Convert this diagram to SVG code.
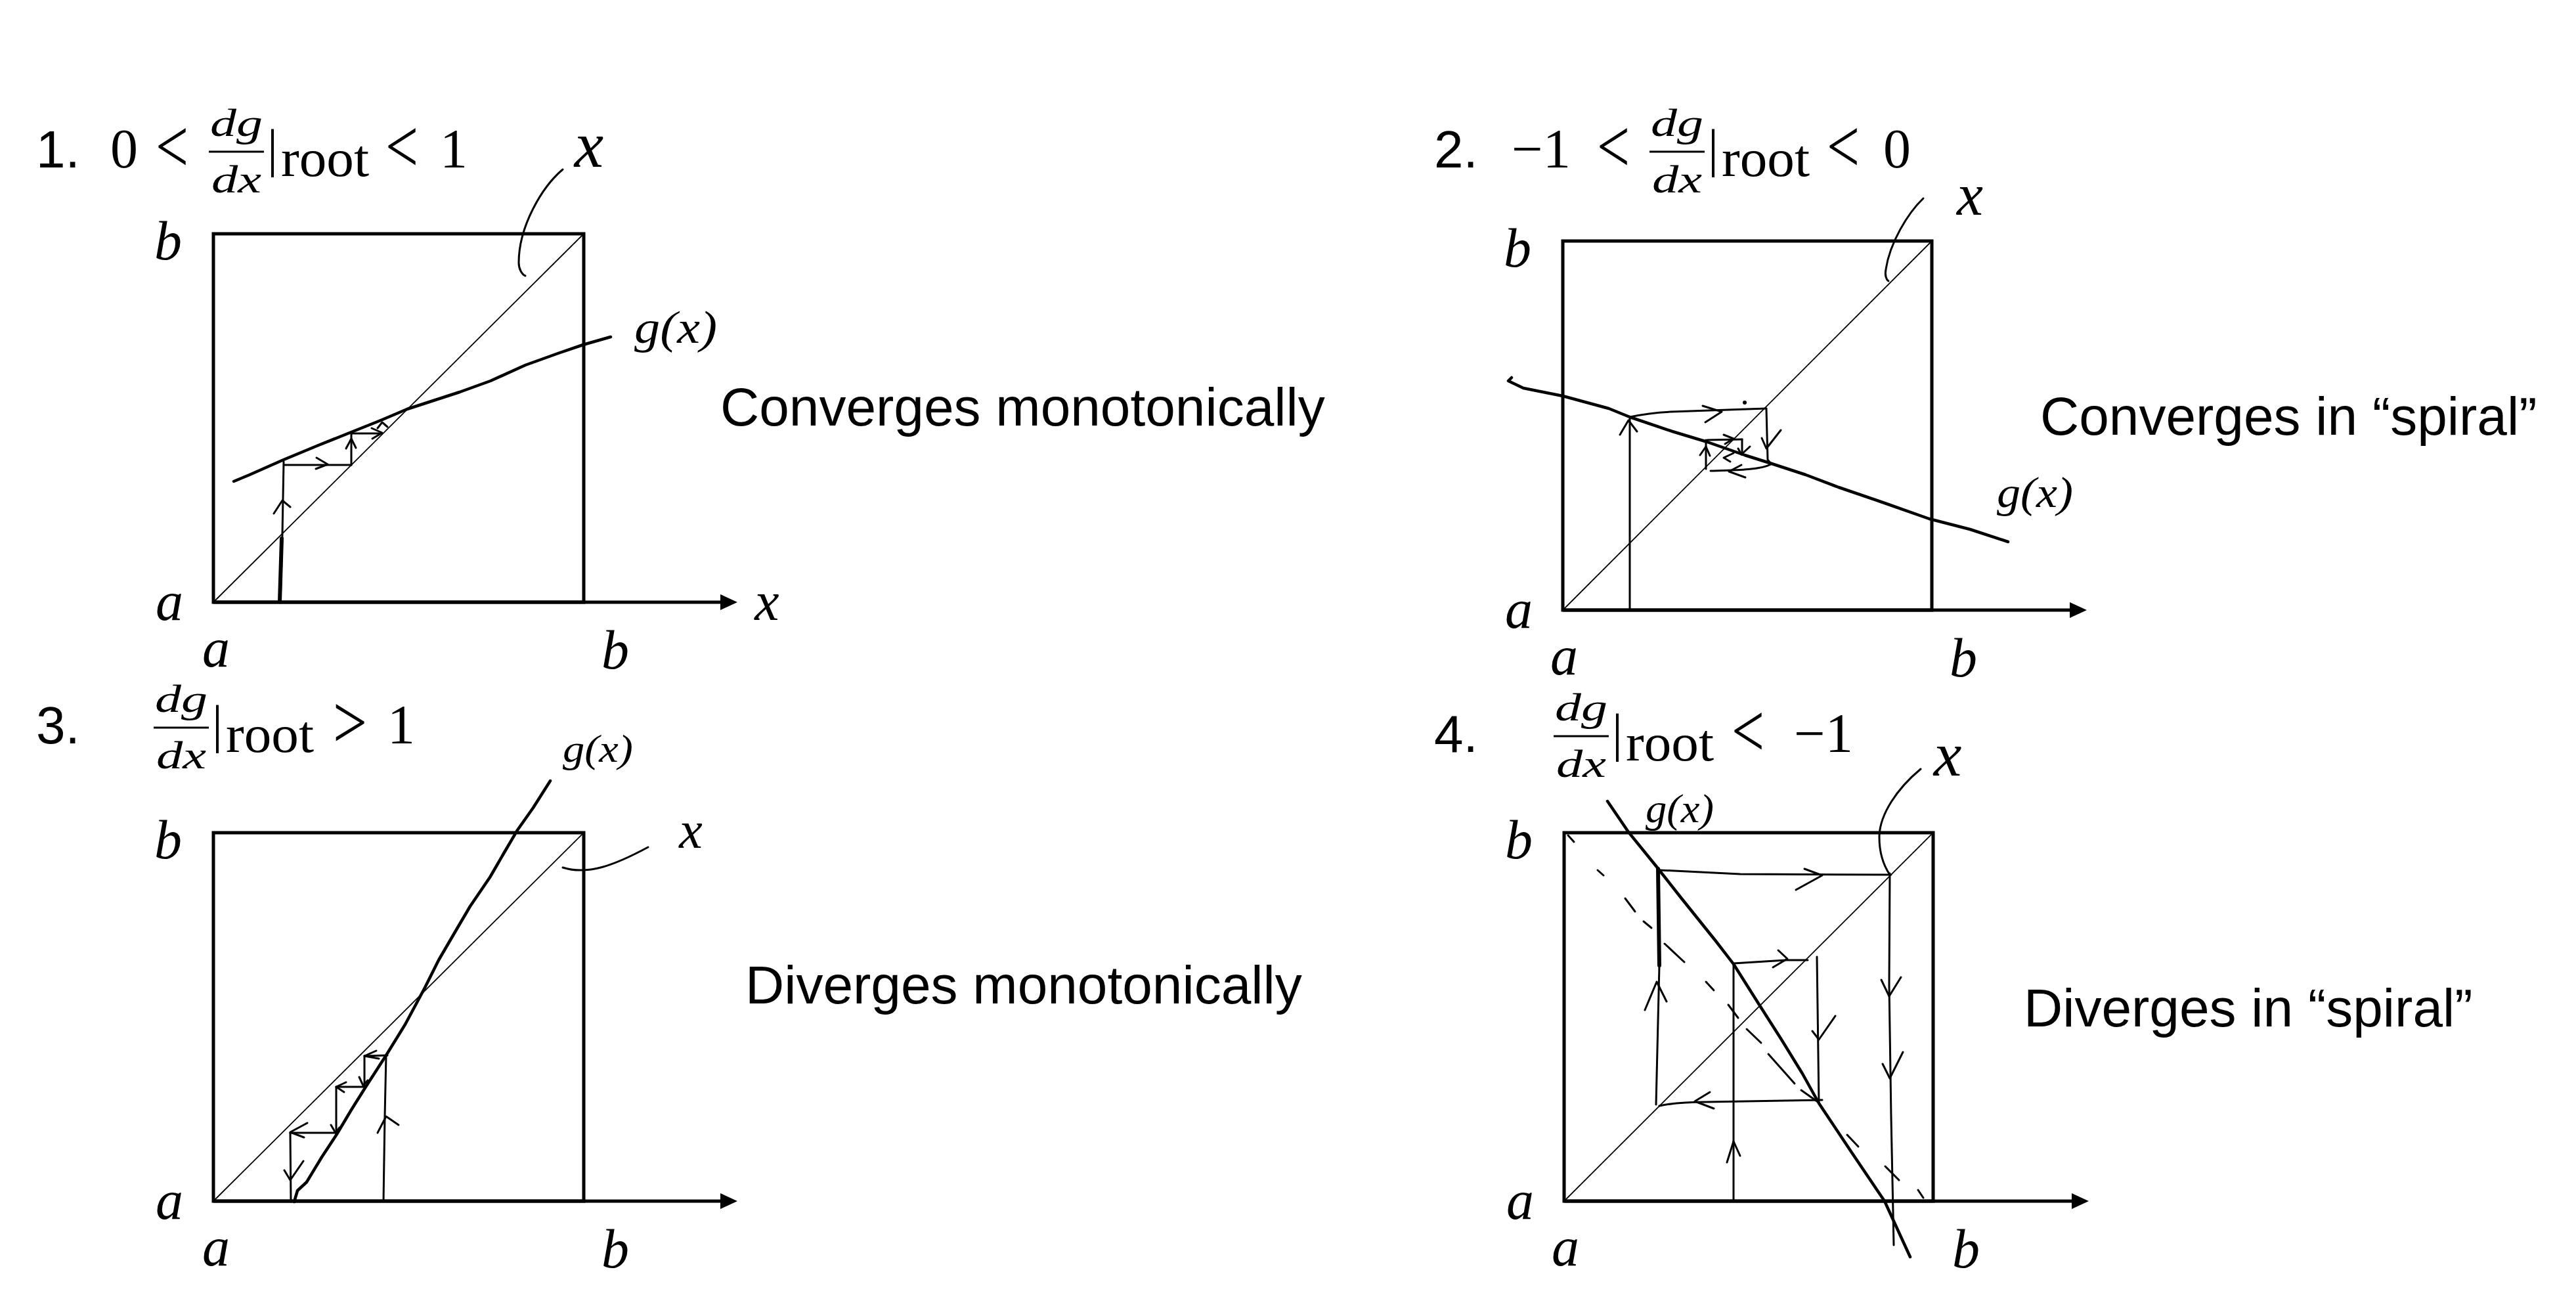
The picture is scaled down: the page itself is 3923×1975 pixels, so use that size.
<svg xmlns="http://www.w3.org/2000/svg" width="3923" height="1975" viewBox="0 0 3923 1975">
<style>
.bg{fill:#fff}
.box{fill:none;stroke:#000;stroke-width:5}
.axis{fill:none;stroke:#000;stroke-width:5}
.diag{fill:none;stroke:#000;stroke-width:1.8}
.curve{fill:none;stroke:#000;stroke-width:4.5;stroke-linecap:round;stroke-linejoin:round}
.web{fill:none;stroke:#000;stroke-width:3;stroke-linecap:round;stroke-linejoin:round}
.thick{fill:none;stroke:#000;stroke-width:6;stroke-linecap:round}
.bar{stroke:#000;stroke-width:3}
.sans{font-family:"Liberation Sans",Arial,sans-serif;fill:#000}
.serif{font-family:"Liberation Serif","Times New Roman",serif;fill:#000}
.rel{font-family:"Liberation Serif","Times New Roman",serif;font-size:116px;fill:#000}
.it{font-style:italic}
.hand{font-family:"Liberation Serif","Times New Roman",serif;font-style:italic;fill:#000}
.lbl{font-family:"Liberation Serif","Times New Roman",serif;font-style:italic;font-size:84px;fill:#000}
.desc{font-family:"Liberation Sans",Arial,sans-serif;font-size:82px;fill:#000}
</style>
<defs>
<path id="ah" d="M0,0 L-26,-12 L-26,12 Z" fill="#000"/>
</defs>
<rect class="bg" x="0" y="0" width="3923" height="1975"/>

<!-- Panel 1 -->
<g id="panel1">
  <text class="sans" x="55" y="255" font-size="80">1.</text>
  <text class="serif" x="168" y="255" font-size="84">0</text>
  <text class="rel" x="237" y="262" textLength="50" lengthAdjust="spacingAndGlyphs">&lt;</text>
  <text class="serif it" x="320" y="207" font-size="60" textLength="80" lengthAdjust="spacingAndGlyphs">dg</text>
  <line class="bar" x1="318" y1="231" x2="402" y2="231"/>
  <text class="serif it" x="322" y="293" font-size="60" textLength="76" lengthAdjust="spacingAndGlyphs">dx</text>
  <text class="serif" x="407" y="253" font-size="80">|</text>
  <text class="serif" x="428" y="268" font-size="80" textLength="134" lengthAdjust="spacingAndGlyphs">root</text>
  <text class="rel" x="587" y="262" textLength="50" lengthAdjust="spacingAndGlyphs">&lt;</text>
  <text class="serif" x="670" y="255" font-size="84">1</text>

  <rect class="box" x="325" y="356" width="564" height="561"/>
  <line class="axis" x1="325" y1="917" x2="1100" y2="917"/>
  <use href="#ah" x="1123" y="917"/>
  <line class="diag" x1="325" y1="917" x2="889" y2="356"/>
  <text class="lbl" x="256" y="395" text-anchor="middle">b</text>
  <text class="lbl" x="258" y="944" text-anchor="middle">a</text>
  <text class="lbl" x="329" y="1015" text-anchor="middle">a</text>
  <text class="lbl" x="937" y="1018" text-anchor="middle">b</text>
  <text class="lbl" x="1168" y="944" text-anchor="middle">x</text>

  <path class="curve" d="M356,733 L380,723 L432,700 L485,678 L535,658 L580,640 L620,623 L700,597 L747,580 L800,556 L850,538 L888,525 L930,513"/>
  <text class="hand" x="897" y="254" font-size="100" text-anchor="middle">x</text>
  <path class="web" d="M857,258 C825,285 790,345 790,400 C790,410 795,418 800,420"/>
  <text class="hand" x="966" y="522" font-size="70" textLength="126" lengthAdjust="spacingAndGlyphs">g(x)</text>
  <text class="desc" x="1097" y="648">Converges monotonically</text>
</g>

<!-- Panel 2 -->
<g id="panel2">
  <text class="sans" x="2184" y="255" font-size="80">2.</text>
  <text class="serif" x="2302" y="255" font-size="84" textLength="90" lengthAdjust="spacingAndGlyphs">−1</text>
  <text class="rel" x="2432" y="262" textLength="50" lengthAdjust="spacingAndGlyphs">&lt;</text>
  <text class="serif it" x="2514" y="207" font-size="60" textLength="80" lengthAdjust="spacingAndGlyphs">dg</text>
  <line class="bar" x1="2512" y1="231" x2="2596" y2="231"/>
  <text class="serif it" x="2516" y="293" font-size="60" textLength="76" lengthAdjust="spacingAndGlyphs">dx</text>
  <text class="serif" x="2601" y="253" font-size="80">|</text>
  <text class="serif" x="2622" y="268" font-size="80" textLength="134" lengthAdjust="spacingAndGlyphs">root</text>
  <text class="rel" x="2782" y="262" textLength="50" lengthAdjust="spacingAndGlyphs">&lt;</text>
  <text class="serif" x="2868" y="255" font-size="84">0</text>

  <rect class="box" x="2380" y="367" width="562" height="562"/>
  <line class="axis" x1="2380" y1="929" x2="3155" y2="929"/>
  <use href="#ah" x="3178" y="929"/>
  <line class="diag" x1="2380" y1="929" x2="2942" y2="367"/>
  <text class="lbl" x="2311" y="406" text-anchor="middle">b</text>
  <text class="lbl" x="2313" y="956" text-anchor="middle">a</text>
  <text class="lbl" x="2382" y="1027" text-anchor="middle">a</text>
  <text class="lbl" x="2990" y="1030" text-anchor="middle">b</text>

  <path class="curve" d="M2302,575 L2297,580 L2320,591 L2380,603 L2450,622 L2482,635 L2547,657 L2600,673 L2657,693 L2695,705 L2750,723 L2800,742 L2870,766 L2938,790 L3000,806 L3058,825"/>
  <text class="hand" x="3000" y="327" font-size="90" text-anchor="middle">x</text>
  <path class="web" d="M2929,302 C2905,325 2878,370 2872,410 C2870,420 2873,426 2876,428"/>
  <text class="hand" x="3041" y="772" font-size="66" textLength="116" lengthAdjust="spacingAndGlyphs">g(x)</text>
  <text class="desc" x="3107" y="662">Converges in “spiral”</text>
</g>

<!-- Panel 3 -->
<g id="panel3">
  <text class="sans" x="55" y="1132" font-size="80">3.</text>
  <text class="serif it" x="236" y="1084" font-size="60" textLength="80" lengthAdjust="spacingAndGlyphs">dg</text>
  <line class="bar" x1="234" y1="1108" x2="318" y2="1108"/>
  <text class="serif it" x="238" y="1170" font-size="60" textLength="76" lengthAdjust="spacingAndGlyphs">dx</text>
  <text class="serif" x="323" y="1130" font-size="80">|</text>
  <text class="serif" x="344" y="1145" font-size="80" textLength="134" lengthAdjust="spacingAndGlyphs">root</text>
  <text class="rel" x="507" y="1139" textLength="52" lengthAdjust="spacingAndGlyphs">&gt;</text>
  <text class="serif" x="590" y="1132" font-size="84">1</text>

  <rect class="box" x="325" y="1268" width="564" height="561"/>
  <line class="axis" x1="325" y1="1829" x2="1100" y2="1829"/>
  <use href="#ah" x="1123" y="1829"/>
  <line class="diag" x1="325" y1="1829" x2="889" y2="1268"/>
  <text class="lbl" x="256" y="1307" text-anchor="middle">b</text>
  <text class="lbl" x="258" y="1856" text-anchor="middle">a</text>
  <text class="lbl" x="329" y="1927" text-anchor="middle">a</text>
  <text class="lbl" x="937" y="1930" text-anchor="middle">b</text>

  <path class="curve" d="M448,1830 L453,1813 L467,1800 L490,1762 L513,1727 L535,1690 L557,1655 L588,1607 L617,1560 L647,1504 L668,1462 L689,1426 L716,1380 L746,1336 L768,1298 L788,1264 L812,1230 L838,1189"/>
  <text class="hand" x="857" y="1160" font-size="60" textLength="107" lengthAdjust="spacingAndGlyphs">g(x)</text>
  <text class="hand" x="1052" y="1291" font-size="80" text-anchor="middle">x</text>
  <path class="web" d="M857,1321 C895,1333 935,1318 987,1290"/>
  <text class="desc" x="1135" y="1528">Diverges monotonically</text>
</g>

<!-- Panel 4 -->
<g id="panel4">
  <text class="sans" x="2184" y="1145" font-size="80">4.</text>
  <text class="serif it" x="2368" y="1097" font-size="60" textLength="80" lengthAdjust="spacingAndGlyphs">dg</text>
  <line class="bar" x1="2366" y1="1121" x2="2450" y2="1121"/>
  <text class="serif it" x="2370" y="1183" font-size="60" textLength="76" lengthAdjust="spacingAndGlyphs">dx</text>
  <text class="serif" x="2455" y="1143" font-size="80">|</text>
  <text class="serif" x="2476" y="1158" font-size="80" textLength="134" lengthAdjust="spacingAndGlyphs">root</text>
  <text class="rel" x="2637" y="1152" textLength="50" lengthAdjust="spacingAndGlyphs">&lt;</text>
  <text class="serif" x="2732" y="1145" font-size="84" textLength="90" lengthAdjust="spacingAndGlyphs">−1</text>

  <rect class="box" x="2382" y="1268" width="562" height="561"/>
  <line class="axis" x1="2382" y1="1829" x2="3158" y2="1829"/>
  <use href="#ah" x="3181" y="1829"/>
  <line class="diag" x1="2382" y1="1829" x2="2944" y2="1268"/>
  <text class="lbl" x="2313" y="1307" text-anchor="middle">b</text>
  <text class="lbl" x="2315" y="1856" text-anchor="middle">a</text>
  <text class="lbl" x="2384" y="1927" text-anchor="middle">a</text>
  <text class="lbl" x="2994" y="1930" text-anchor="middle">b</text>

  <path class="curve" d="M2448,1220 L2480,1267 L2523,1320 L2560,1367 L2613,1433 L2640,1468 L2676,1525 L2713,1583 L2745,1635 L2770,1680 L2820,1755 L2870,1829 L2909,1914"/>
  <g class="web">
    <path d="M2388,1272 L2397,1282"/>
    <path d="M2433,1325 L2442,1333"/>
    <path d="M2475,1368 L2490,1388"/>
    <path d="M2503,1403 L2515,1413"/>
    <path d="M2535,1437 L2565,1465"/>
    <path d="M2598,1495 L2610,1508"/>
    <path d="M2632,1530 L2647,1550"/>
    <path d="M2660,1567 L2682,1588"/>
    <path d="M2693,1605 L2733,1650"/>
    <path d="M2743,1660 L2767,1677"/>
    <path d="M2813,1728 L2830,1746"/>
    <path d="M2871,1776 L2892,1797"/>
    <path d="M2921,1812 L2929,1824"/>
  </g>
  <text class="hand" x="2506" y="1252" font-size="62" textLength="104" lengthAdjust="spacingAndGlyphs">g(x)</text>
  <text class="hand" x="2966" y="1181" font-size="96" text-anchor="middle">x</text>
  <path class="web" d="M2925,1171 C2890,1200 2862,1240 2862,1275 C2862,1300 2870,1320 2878,1332"/>
  <text class="desc" x="3082" y="1563">Diverges in “spiral”</text>
</g>

<!-- Cobweb iteration paths (connectors) -->
<g id="connectors">
  <!-- panel 1 -->
  <path class="thick" d="M426,916 L429,820"/>
  <path class="web" d="M427,918 L430,813 L432,703"/>
  <path class="web" d="M417,782 L430,762 L442,772"/>
  <path class="web" d="M433,708 L535,708"/>
  <path class="web" d="M482,697 L499,707 L481,714"/>
  <path class="web" d="M535,708 L535,660"/>
  <path class="web" d="M527,683 L535,668 L542,682"/>
  <path class="web" d="M535,660 L582,660"/>
  <path class="web" d="M566,652 L582,659 L567,668"/>
  <path class="web" d="M575,652 L582,643 L590,650"/>

  <!-- panel 2 -->
  <path class="web" d="M2482,929 L2482,637"/>
  <path class="web" d="M2467,662 L2480,640 L2493,657"/>
  <path class="web" d="M2482,635 C2505,630 2520,628 2545,627 L2690,622"/>
  <path class="web" d="M2593,618 L2622,627 L2597,643"/>
  <circle cx="2657" cy="613" r="3" fill="#000"/>
  <path class="web" d="M2690,623 L2692,700 L2697,706"/>
  <path class="web" d="M2683,667 L2690,683 L2712,655"/>
  <path class="web" d="M2697,707 C2680,716 2640,716 2605,717"/>
  <path class="web" d="M2652,708 L2633,718 L2658,727"/>
  <path class="web" d="M2598,714 L2598,670"/>
  <path class="web" d="M2589,693 L2598,680 L2604,694"/>
  <path class="web" d="M2600,670 L2653,669"/>
  <path class="web" d="M2625,662 L2640,668 L2627,676"/>
  <path class="web" d="M2653,669 L2653,692"/>
  <path class="web" d="M2647,683 L2652,692 L2665,680"/>
  <path class="web" d="M2640,690 L2625,697 L2635,703"/>

  <!-- panel 3 -->
  <path class="web" d="M584,1829 L586,1700 L588,1607"/>
  <path class="web" d="M575,1725 L588,1700 L607,1713"/>
  <path class="web" d="M590,1607 L555,1608"/>
  <path class="web" d="M573,1600 L555,1608 L577,1612"/>
  <path class="web" d="M555,1608 L555,1655"/>
  <path class="web" d="M547,1640 L553,1653 L560,1645"/>
  <path class="web" d="M557,1655 L512,1655"/>
  <path class="web" d="M527,1648 L512,1655 L524,1663"/>
  <path class="web" d="M512,1655 L512,1727"/>
  <path class="web" d="M504,1713 L511,1725 L517,1717"/>
  <path class="web" d="M513,1725 L442,1725"/>
  <path class="web" d="M468,1710 L442,1724 L463,1732"/>
  <path class="web" d="M442,1725 L443,1830"/>
  <path class="web" d="M433,1782 L442,1797 L462,1768"/>

  <!-- panel 4 -->
  <path class="web" d="M2527,1325 L2570,1327 L2650,1331 L2880,1332"/>
  <path class="web" d="M2748,1323 L2775,1333 L2735,1355"/>
  <path class="thick" d="M2525,1323 L2527,1470"/>
  <path class="web" d="M2525,1323 L2527,1470 L2522,1682"/>
  <path class="web" d="M2505,1538 L2523,1495 L2538,1525"/>
  <path class="web" d="M2640,1467 L2720,1462 L2753,1462"/>
  <path class="web" d="M2708,1447 L2722,1460 L2700,1473"/>
  <path class="web" d="M2640,1467 L2640,1829"/>
  <path class="web" d="M2630,1770 L2640,1738 L2650,1760"/>
  <path class="web" d="M2767,1457 L2770,1680"/>
  <path class="web" d="M2760,1570 L2770,1583 L2795,1547"/>
  <path class="web" d="M2775,1675 L2600,1678 C2570,1678 2545,1680 2527,1684"/>
  <path class="web" d="M2604,1663 L2581,1677 L2610,1688"/>
  <path class="web" d="M2878,1330 L2877,1500 L2880,1700 L2884,1896"/>
  <path class="web" d="M2865,1492 L2877,1517 L2895,1488"/>
  <path class="web" d="M2867,1620 L2878,1642 L2898,1602"/>
</g>
</svg>
